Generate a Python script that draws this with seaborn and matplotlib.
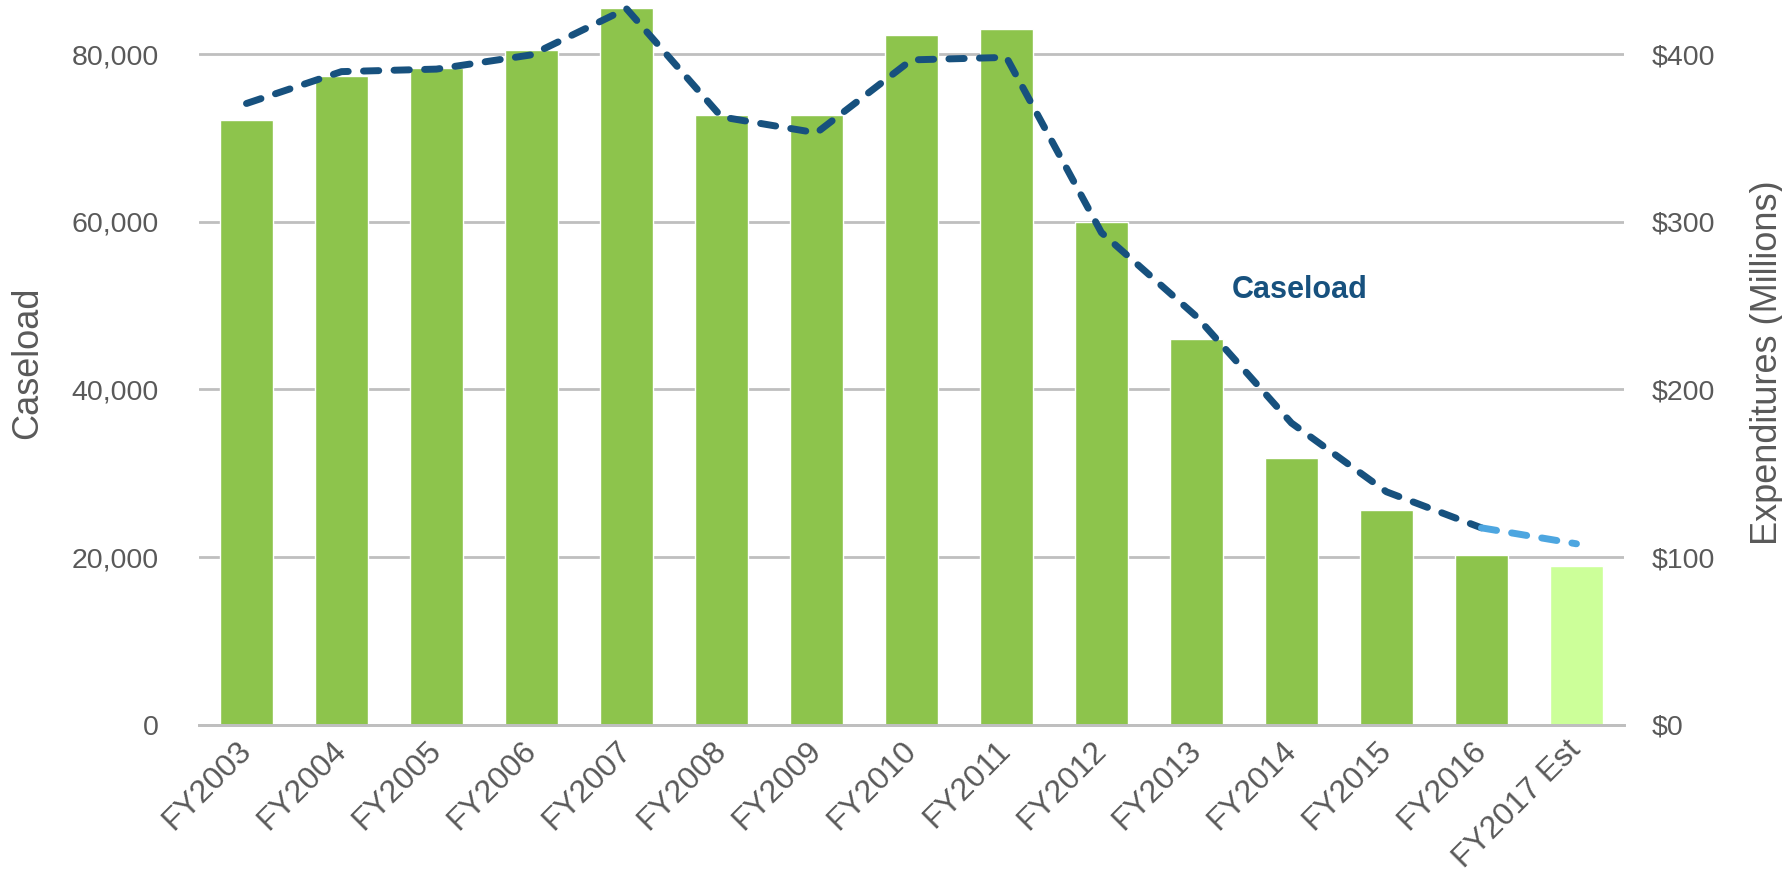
import seaborn as sns
import pandas as pd
import matplotlib.pyplot as plt
from matplotlib.ticker import FuncFormatter

# Data
years = ['FY2003', 'FY2004', 'FY2005', 'FY2006', 'FY2007', 'FY2008', 'FY2009', 'FY2010',
         'FY2011', 'FY2012', 'FY2013', 'FY2014', 'FY2015', 'FY2016', 'FY2017 Est']
expenditures = [360.7, 386.7, 391.7, 402.4, 427.4, 363.7, 363.5, 411.5,
                414.9, 299.6, 230.3, 159.4, 127.9, 101.2, 95.0]  # $ millions
caseload = [74100, 77900, 78200, 79900, 85400, 72500, 70600, 79300,
            79600, 58700, 48700, 36000, 27800, 23500, 21600]
status = ['Actual'] * 14 + ['Estimate']

bars = pd.DataFrame({'Year': years, 'Expenditures': expenditures, 'Status': status})
line = pd.DataFrame({'pos': range(len(years)), 'Caseload': caseload})

gray = '#595959'
navy = '#17517E'
sns.set_style('white')
plt.rcParams['font.family'] = ['Liberation Sans', 'DejaVu Sans']

fig = plt.figure(figsize=(17.83, 8.83), dpi=100)
ax = fig.add_axes([0.1116, 0.179, 0.7992, 0.821])  # caseload (left)
ax2 = ax.twinx()                                     # expenditures (right)

sns.barplot(data=bars, x='Year', y='Expenditures', hue='Status',
            palette={'Actual': '#8DC44C', 'Estimate': '#CCFF99'}, saturation=1,
            dodge=False, width=0.56, legend=False, ax=ax2, zorder=2)
ax2.set_ylim(0, 432.2)
ax2.set_yticks([0, 100, 200, 300, 400])
ax2.yaxis.set_major_formatter(FuncFormatter(lambda v, _: f'${v:.0f}'))
ax2.grid(axis='y', color='#BFBFBF', linewidth=2)
ax2.set_axisbelow(True)
ax2.set_ylabel('Expenditures (Millions)', fontsize=26, color=gray)
ax2.yaxis.set_label_coords(1.0884, 0.5)
ax2.tick_params(axis='y', length=0, pad=20, labelsize=20.5, labelcolor=gray)

# line drawn on the front axes
ax.set_zorder(ax2.get_zorder() + 1)
ax.patch.set_visible(False)
sns.lineplot(data=line.iloc[:14], x='pos', y='Caseload', color=navy, linewidth=5,
             dashes=(2.2, 2.2), dash_capstyle='round', ax=ax)
sns.lineplot(data=line.iloc[13:], x='pos', y='Caseload', color='#4DA6E0', linewidth=5,
             dashes=(2.2, 2.2), dash_capstyle='round', ax=ax)
ax.set_xlim(-0.5, len(years) - 0.5)
ax2.set_xlim(-0.5, len(years) - 0.5)
ax.set_ylim(0, 86440)
ax.set_yticks([0, 20000, 40000, 60000, 80000])
ax.yaxis.set_major_formatter(FuncFormatter(lambda v, _: f'{v:,.0f}'))
ax.tick_params(axis='y', length=0, pad=29, labelsize=20.5, labelcolor=gray)
ax.set_ylabel('Caseload', fontsize=26, color=gray)
ax.yaxis.set_label_coords(-0.108, 0.5)

ax.set_xticks(range(len(years)))
ax.set_xticklabels(years, rotation=45, ha='right', va='center', rotation_mode='anchor')
ax.tick_params(axis='x', length=0, pad=15, labelsize=23, labelcolor=gray)
ax.set_xlabel('')
ax2.set_xlabel('')
ax2.tick_params(axis='x', length=0, labelbottom=False)

for a in (ax, ax2):
    for s in ('top', 'left', 'right'):
        a.spines[s].set_visible(False)
    a.spines['bottom'].set_color('#BFBFBF')
    a.spines['bottom'].set_linewidth(2)

ax.text(10.37, 51900, 'Caseload', color=navy, fontsize=22, fontweight='bold',
        ha='left', va='center')

fig.savefig('out.png', dpi=100)
